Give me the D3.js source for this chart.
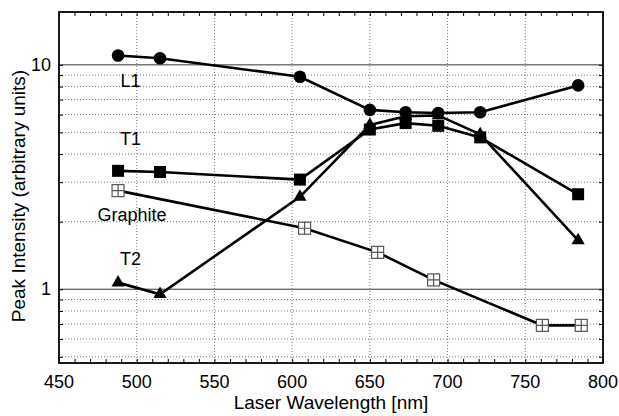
<!DOCTYPE html>
<html>
<head>
<meta charset="utf-8">
<script src="https://cdn.jsdelivr.net/npm/d3@7"></script>
<style>
  body { margin: 0; background: #fff; }
  text { font-family: "Liberation Sans", Arial, sans-serif; fill: #000; }
</style>
</head>
<body>
<div id="chart"></div>
<script>
// data
var wavelengths = [488, 515, 605, 650, 673, 694, 721, 784];
var l1 = [11.0, 10.7, 8.85, 6.3, 6.15, 6.1, 6.15, 8.1];
var t1 = [3.37, 3.33, 3.08, 5.15, 5.5, 5.35, 4.75, 2.65];
var t2 = [1.07, 0.95, 2.58, 5.4, 5.9, 5.95, 4.9, 1.65];
var graphiteWavelengths = [488, 608, 655, 691, 761, 786];
var graphite = [2.75, 1.87, 1.46, 1.10, 0.69, 0.69];

var xTicks = [450, 500, 550, 600, 650, 700, 750, 800];
var yTicks = [1, 10];
var yMinor = [0.5, 0.6, 0.7, 0.8, 0.9, 2, 3, 4, 5, 6, 7, 8, 9];

var labels = [
    {text: "L1", x: 496, y: 7.97},
    {text: "T1", x: 496, y: 4.4},
    {text: "Graphite", x: 497, y: 2.02},
    {text: "T2", x: 496, y: 1.28}
];

var svgWidth = 619, svgHeight = 416;
var margin = {top: 12, right: 16, bottom: 53, left: 59};
var width = svgWidth - margin.left - margin.right;
var height = svgHeight - margin.top - margin.bottom;

var svg = d3.select("#chart").append("svg")
    .attr("width", svgWidth).attr("height", svgHeight);
var g = svg.append("g").attr("transform", `translate(${margin.left},${margin.top})`);

var xScale = d3.scaleLinear().domain([450, 800]).range([0, width]);
var yScale = d3.scaleLog().domain([0.469, 17.2]).range([height, 0]);

// grid
g.selectAll(".vgrid").data(xTicks.slice(1, -1)).enter().append("line")
    .attr("x1", d => xScale(d)).attr("x2", d => xScale(d))
    .attr("y1", 0).attr("y2", height)
    .attr("stroke", "#777").attr("stroke-width", 1).attr("stroke-dasharray", "1,2");
g.selectAll(".hgrid").data(yMinor).enter().append("line")
    .attr("x1", 0).attr("x2", width)
    .attr("y1", d => yScale(d)).attr("y2", d => yScale(d))
    .attr("stroke", "#777").attr("stroke-width", 1).attr("stroke-dasharray", "1,2");
g.selectAll(".hmajor").data(yTicks).enter().append("line")
    .attr("x1", 0).attr("x2", width)
    .attr("y1", d => yScale(d)).attr("y2", d => yScale(d))
    .attr("stroke", "#333").attr("stroke-width", 1);

// axes (ticks inside the frame)
var xMinorTicks = d3.range(450, 801, 10);
var xAxisB = d3.axisBottom(xScale).tickValues(xMinorTicks).tickSize(-4).tickFormat("");
var xAxisT = d3.axisTop(xScale).tickValues(xMinorTicks).tickSize(-4).tickFormat("");
var yAxisL = d3.axisLeft(yScale).tickValues(yMinor.concat(yTicks)).tickSize(-4).tickFormat("");
var yAxisR = d3.axisRight(yScale).tickValues(yMinor.concat(yTicks)).tickSize(-4).tickFormat("");
g.append("g").attr("transform", `translate(0,${height})`).call(xAxisB);
g.append("g").call(xAxisT);
g.append("g").call(yAxisL);
g.append("g").attr("transform", `translate(${width},0)`).call(yAxisR);
g.selectAll(".domain").remove();
g.selectAll(".tick line").attr("stroke", "#000").attr("stroke-width", 1);

g.selectAll(".xlab").data(xTicks).enter().append("text")
    .attr("x", d => xScale(d)).attr("y", height + 25)
    .attr("text-anchor", "middle").attr("font-size", 18)
    .text(d => d);
g.selectAll(".ylab").data(yTicks).enter().append("text")
    .attr("x", -8).attr("y", d => yScale(d) + 6)
    .attr("text-anchor", "end").attr("font-size", 18)
    .text(d => d);

g.append("rect").attr("width", width).attr("height", height)
    .attr("fill", "none").attr("stroke", "#000").attr("stroke-width", 1.8);

// axis titles
svg.append("text")
    .attr("x", margin.left + width / 2).attr("y", svgHeight - 7)
    .attr("text-anchor", "middle").attr("font-size", 19)
    .text("Laser Wavelength [nm]");
svg.append("text")
    .attr("transform", "translate(25,196)rotate(-90)")
    .attr("text-anchor", "middle").attr("font-size", 19)
    .text("Peak Intensity (arbitrary units)");

// lines
var line = d3.line().x(d => xScale(d[0])).y(d => yScale(d[1]));
function series(xs, ys) { return xs.map((x, i) => [x, ys[i]]); }

var l1Data = series(wavelengths, l1);
var t1Data = series(wavelengths, t1);
var t2Data = series(wavelengths, t2);
var grData = series(graphiteWavelengths, graphite);

[grData, t2Data, t1Data, l1Data].forEach(d => {
    g.append("path").datum(d).attr("d", line)
        .attr("fill", "none").attr("stroke", "#000").attr("stroke-width", 2.6);
});

// markers
g.selectAll(".gr").data(grData).enter().append("g")
    .attr("transform", d => `translate(${xScale(d[0])},${yScale(d[1])})`)
    .each(function () {
        var m = d3.select(this);
        m.append("rect").attr("x", -6).attr("y", -6).attr("width", 12).attr("height", 12)
            .attr("fill", "#fff").attr("stroke", "#555").attr("stroke-width", 1.2);
        m.append("path").attr("d", "M0,-6V6M-6,0H6")
            .attr("stroke", "#555").attr("stroke-width", 1.2);
    });
g.selectAll(".t2").data(t2Data).enter().append("path")
    .attr("d", d3.symbol(d3.symbolTriangle, 75))
    .attr("transform", d => `translate(${xScale(d[0])},${yScale(d[1])})`)
    .attr("fill", "#000");
g.selectAll(".t1").data(t1Data).enter().append("rect")
    .attr("x", d => xScale(d[0]) - 6).attr("y", d => yScale(d[1]) - 6)
    .attr("width", 12).attr("height", 12).attr("fill", "#000");
g.selectAll(".l1").data(l1Data).enter().append("circle")
    .attr("cx", d => xScale(d[0])).attr("cy", d => yScale(d[1]))
    .attr("r", 6.3).attr("fill", "#000");

// series labels
g.selectAll(".slab").data(labels).enter().append("text")
    .attr("x", d => xScale(d.x)).attr("y", d => yScale(d.y))
    .attr("text-anchor", "middle").attr("font-size", 18)
    .text(d => d.text);
</script>
</body>
</html>
